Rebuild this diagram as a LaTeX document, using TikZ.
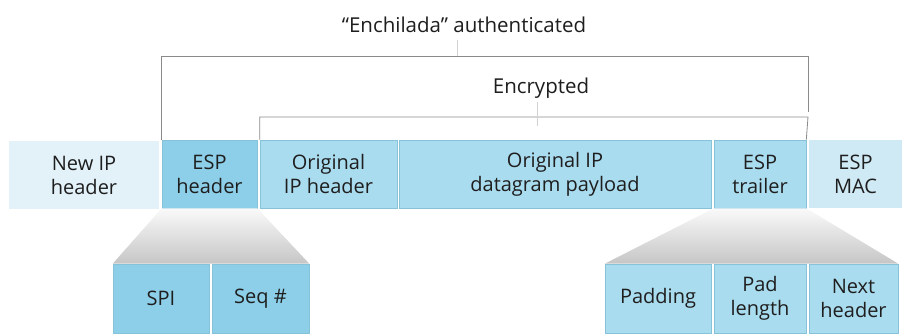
\documentclass[tikz,border=0pt]{standalone}
\usepackage{fontspec}
\setmainfont{Open Sans}
\definecolor{txt}{HTML}{1E1E1E}
\definecolor{darkb}{HTML}{8DCFE8}
\definecolor{midb}{HTML}{AADCEF}
\definecolor{lightb}{HTML}{E3F2F9}
\definecolor{macb}{HTML}{CFE9F5}
\definecolor{edge}{HTML}{86C2D8}
\definecolor{brk}{HTML}{8A8A8A}
\tikzset{
  box/.style={draw=edge, line width=0.6pt, inner sep=0pt, align=center, text=txt,
    font=\fontsize{20}{24}\selectfont},
  topbox/.style={box, minimum height=68pt},
  botbox/.style={box, minimum height=69pt},
  bracket/.style={draw=brk, line width=0.8pt},
  tickline/.style={draw=gray!35, line width=0.8pt},
  lbl/.style={text=txt, font=\fontsize{20.5}{24}\selectfont, inner sep=0pt, anchor=base},
  fan/.style={top color=white!96!gray, bottom color=gray!45, draw=none}
}
\begin{document}
\begin{tikzpicture}[x=1pt,y=1pt]
\useasboundingbox (0,0) rectangle (902,333);
% top row
\node[topbox, fill=lightb, draw=none, minimum width=150pt] (newip) at (84,158) {New IP\\header};
\node[topbox, fill=darkb, minimum width=95pt] (esph) at (209.5,159) {ESP\\header};
\node[topbox, fill=midb, minimum width=137pt] (origh) at (328.5,159) {Original\\IP header};
\node[topbox, fill=midb, minimum width=312pt] (payload) at (555,159) {Original IP\\datagram payload};
\node[topbox, fill=midb, minimum width=92pt] (trailer) at (760,159) {ESP\\trailer};
\node[topbox, fill=macb, draw=none, minimum width=93pt] (mac) at (855.5,159) {ESP\\MAC};
% bottom rows
\node[botbox, fill=darkb, minimum width=96pt] (spi) at (161,34.5) {SPI};
\node[botbox, fill=darkb, minimum width=97pt] (seq) at (260.5,34.5) {Seq \#};
\node[botbox, fill=midb, minimum width=106pt] (padding) at (658,34.5) {Padding};
\node[botbox, fill=midb, minimum width=92pt] (padlen) at (760,34.5) {Pad\\length};
\node[botbox, fill=midb, minimum width=89pt] (nexth) at (853.5,34.5) {Next\\header};
% fans
\shade[fan] (esph.south west) -- (esph.south east) -- (seq.north east) -- (spi.north west) -- cycle;
\shade[fan] (trailer.south west) -- (trailer.south east) -- (nexth.north east) -- (padding.north west) -- cycle;
% labels
\node[lbl] (auth) at (464,301) {“Enchilada” authenticated};
\node[lbl] (enc) at (541,240) {Encrypted};
% brackets
\coordinate (otr) at (808,277);
\coordinate (otrend) at (808,221);
\coordinate (itr) at (808,216);
\coordinate (authtick) at (457,293);
\coordinate (authtickend) at (457,277);
\coordinate (enctick) at (537,231);
\coordinate (enctickend) at (537,207);
\draw[bracket] (esph.north west) |- (otr) -- (otrend);
\draw[bracket] (origh.north west) |- (itr) -- (trailer.north east);
\draw[tickline] (authtick) -- (authtickend);
\draw[tickline] (enctick) -- (enctickend);
\end{tikzpicture}
\end{document}
